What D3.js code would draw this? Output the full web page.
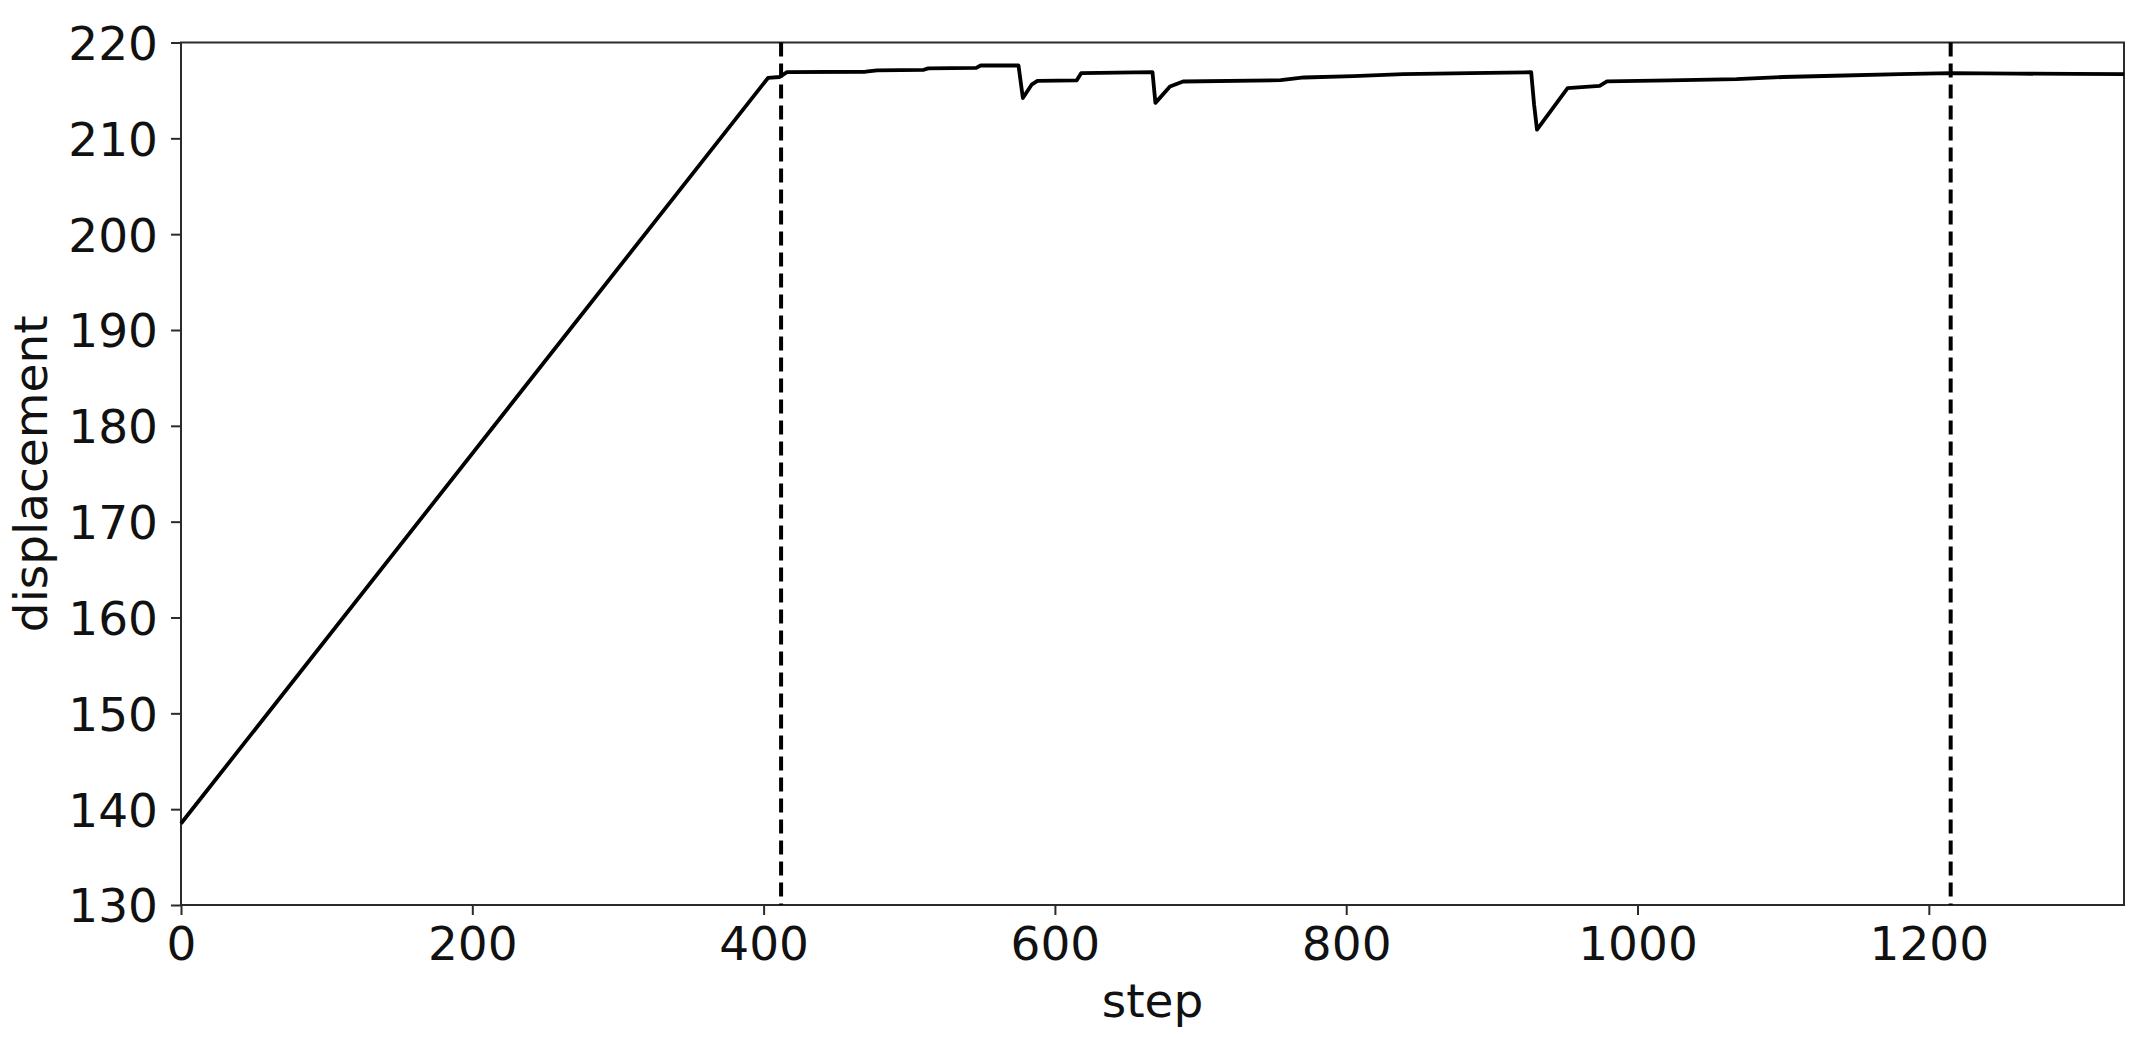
<!DOCTYPE html>
<html>
<head>
<meta charset="utf-8">
<script src="https://cdn.jsdelivr.net/npm/d3@7"></script>
<style>
  html, body { margin: 0; padding: 0; background: #ffffff; }
  svg { display: block; }
  text { font-family: "DejaVu Sans", sans-serif; fill: #111; }
</style>
</head>
<body>
<svg id="chart" width="2147" height="1038"></svg>
<script>
// ---- data ----
const steps = [0, 403, 411, 416, 470, 478, 510, 513, 546, 549, 575, 578, 584, 588,
  615, 618, 667, 669, 679, 688, 755, 771, 805, 839, 885, 927, 929, 931, 952, 974, 979,
  1022, 1068, 1100, 1135, 1180, 1215, 1260, 1300, 1334];
const displacement = [138.5, 216.3, 216.4, 216.9, 216.95, 217.1, 217.15, 217.3, 217.35, 217.6, 217.6, 214.2, 215.6, 216.0,
  216.05, 216.8, 216.9, 213.7, 215.4, 215.93, 216.07, 216.35, 216.5, 216.7, 216.8, 216.9, 213.5, 210.9, 215.24, 215.48, 215.94,
  216.04, 216.18, 216.4, 216.53, 216.7, 216.8, 216.75, 216.72, 216.7];
const markerSteps = [412, 1215];
const xTicks = [0, 200, 400, 600, 800, 1000, 1200];
const yTicks = [130, 140, 150, 160, 170, 180, 190, 200, 210, 220];
const xDomain = [0, 1334];
const yDomain = [130, 220];
const xLabel = "step";
const yLabel = "displacement";

// ---- layout ----
const pLeft = 181, pRight = 2124, pTop = 42.5, pBottom = 905;
const svg = d3.select("#chart");
const x = d3.scaleLinear().domain(xDomain).range([pLeft, pRight]);
const y = d3.scaleLinear().domain(yDomain).range([pBottom, pTop]);

const axisColor = "#2b2b2b";
const fontSize = 47;

// frame
svg.append("rect")
  .attr("x", pLeft).attr("y", pTop)
  .attr("width", pRight - pLeft).attr("height", pBottom - pTop)
  .attr("fill", "none").attr("stroke", axisColor).attr("stroke-width", 2);

// data line
const data = steps.map((s, i) => [s, displacement[i]]);
svg.append("path")
  .datum(data)
  .attr("fill", "none")
  .attr("stroke", "#000")
  .attr("stroke-width", 3.8)
  .attr("stroke-linejoin", "round")
  .attr("d", d3.line().x(d => x(d[0])).y(d => y(d[1])));

// dashed vertical markers
svg.selectAll("line.marker")
  .data(markerSteps)
  .enter().append("line")
  .attr("class", "marker")
  .attr("x1", d => x(d)).attr("x2", d => x(d))
  .attr("y1", pTop).attr("y2", pBottom)
  .attr("stroke", "#000")
  .attr("stroke-width", 4)
  .attr("stroke-dasharray", "14,7");

// x axis
const gx = svg.append("g")
  .attr("transform", `translate(0,${pBottom})`)
  .call(d3.axisBottom(x).tickValues(xTicks).tickSize(10).tickPadding(12).tickFormat(d3.format("d")));
// y axis
const gy = svg.append("g")
  .attr("transform", `translate(${pLeft},0)`)
  .call(d3.axisLeft(y).tickValues(yTicks).tickSize(10).tickPadding(13).tickFormat(d3.format("d")));

[gx, gy].forEach(g => {
  g.select(".domain").remove();
  g.selectAll(".tick line").attr("stroke", axisColor).attr("stroke-width", 2);
  g.selectAll(".tick text")
    .style("font-family", "'DejaVu Sans', sans-serif")
    .style("font-size", fontSize + "px")
    .attr("fill", "#111");
});
gy.selectAll(".tick text").attr("dy", "0.36em");

// axis labels
svg.append("text")
  .attr("x", (pLeft + pRight) / 2)
  .attr("y", 1017)
  .attr("text-anchor", "middle")
  .style("font-size", fontSize + "px")
  .text(xLabel);

svg.append("text")
  .attr("transform", `translate(47,${(pTop + pBottom) / 2}) rotate(-90)`)
  .attr("text-anchor", "middle")
  .style("font-size", fontSize + "px")
  .text(yLabel);
</script>
</body>
</html>
